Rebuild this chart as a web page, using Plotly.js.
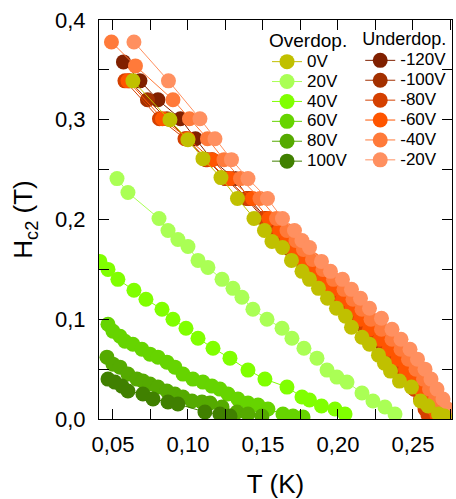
<!DOCTYPE html>
<html><head><meta charset="utf-8">
<script src="https://cdn.plot.ly/plotly-3.0.1.min.js"></script>
<style>html,body{margin:0;padding:0;background:#fff}</style>
</head><body><div id="chart" style="width:456px;height:499px"></div>
<script>
// ---- Overdoped series ----
const T_0V = [0.0633,0.088,0.100,0.110,0.122,0.133,0.144,0.151,0.156,0.163,0.169,0.176,0.181,0.187,0.193,0.199,0.205,0.209,0.216,0.221,0.227,0.231,0.235,0.241,0.249,0.255,0.260,0.267,0.271];
const H_0V = [0.339,0.300,0.280,0.261,0.242,0.221,0.201,0.189,0.178,0.172,0.159,0.148,0.140,0.131,0.121,0.111,0.103,0.092,0.082,0.075,0.064,0.056,0.048,0.038,0.032,0.018,0.013,0.005,0.003];

const T_20V = [0.0527,0.060,0.0807,0.0867,0.0933,0.100,0.1067,0.1133,0.1227,0.130,0.136,0.1433,0.1527,0.1627,0.1693,0.1773,0.186,0.1927,0.1993,0.206,0.216,0.2233,0.2313,0.238];
const H_20V = [0.241,0.227,0.201,0.189,0.180,0.173,0.159,0.152,0.140,0.131,0.122,0.110,0.100,0.091,0.081,0.071,0.061,0.049,0.042,0.037,0.026,0.018,0.012,0.005];

const T_40V = [0.0413,0.0467,0.0533,0.064,0.072,0.0827,0.090,0.0987,0.1067,0.1167,0.128,0.140,0.1513,0.166,0.176,0.181,0.189,0.198,0.2047];
const H_40V = [0.158,0.150,0.140,0.129,0.120,0.110,0.100,0.091,0.081,0.071,0.061,0.049,0.040,0.032,0.022,0.019,0.013,0.010,0.005];

const T_60V = [0.0467,0.050,0.0547,0.058,0.0633,0.0693,0.0747,0.080,0.086,0.0913,0.0967,0.1033,0.110,0.116,0.1213,0.1267,0.1333,0.140,0.1467,0.1533,0.1633,0.170,0.1767];
const H_60V = [0.095,0.088,0.083,0.078,0.075,0.070,0.065,0.062,0.057,0.052,0.045,0.040,0.037,0.033,0.030,0.025,0.020,0.016,0.014,0.010,0.005,0.003,0.002];

const T_80V = [0.046,0.050,0.0547,0.060,0.066,0.070,0.0747,0.080,0.086,0.0913,0.0967,0.1027,0.1093,0.1147,0.1227,0.1327,0.140,0.1493];
const H_80V = [0.062,0.055,0.052,0.045,0.040,0.038,0.035,0.032,0.028,0.025,0.022,0.018,0.017,0.016,0.012,0.007,0.005,0.003];

const T_100V = [0.0467,0.0513,0.056,0.060,0.070,0.0767,0.0867,0.0933,0.1113,0.1213,0.128];
const H_100V = [0.040,0.037,0.033,0.028,0.025,0.020,0.017,0.015,0.007,0.005,0.003];

// ---- Underdoped series ----
const T_m120V = [0.057,0.068,0.080,0.095,0.105,0.116,0.131,0.141,0.152,0.159,0.164,0.170,0.176,0.182,0.189,0.195,0.201,0.208,0.214,0.220,0.226,0.232,0.238,0.243,0.248,0.253,0.258,0.262,0.264];
const H_m120V = [0.358,0.339,0.320,0.301,0.281,0.260,0.241,0.221,0.201,0.189,0.179,0.170,0.160,0.150,0.140,0.130,0.120,0.110,0.100,0.090,0.080,0.070,0.060,0.050,0.040,0.030,0.020,0.010,0.004];

const T_m100V = [0.061,0.073,0.086,0.099,0.112,0.125,0.139,0.150,0.157,0.162,0.168,0.174,0.180,0.187,0.193,0.199,0.206,0.212,0.218,0.224,0.230,0.236,0.241,0.246,0.251,0.256,0.260,0.262];
const H_m100V = [0.339,0.320,0.301,0.281,0.260,0.241,0.221,0.201,0.189,0.179,0.170,0.160,0.150,0.140,0.130,0.120,0.110,0.100,0.090,0.080,0.070,0.060,0.050,0.040,0.030,0.020,0.010,0.004];

const T_m80V = [0.058,0.081,0.098,0.113,0.126,0.140,0.151,0.158,0.163,0.169,0.175,0.181,0.188,0.194,0.200,0.207,0.213,0.219,0.225,0.231,0.237,0.242,0.247,0.251,0.255,0.258,0.260];
const H_m80V = [0.339,0.301,0.281,0.260,0.241,0.221,0.201,0.189,0.179,0.170,0.160,0.150,0.140,0.130,0.120,0.110,0.100,0.090,0.080,0.070,0.060,0.050,0.040,0.030,0.020,0.010,0.004];

const T_m60V = [0.060,0.083,0.100,0.116,0.128,0.143,0.154,0.161,0.166,0.171,0.177,0.183,0.190,0.196,0.203,0.209,0.215,0.221,0.228,0.234,0.240,0.245,0.250,0.255,0.260,0.264,0.266];
const H_m60V = [0.339,0.301,0.281,0.260,0.241,0.221,0.201,0.189,0.179,0.170,0.160,0.150,0.140,0.130,0.120,0.110,0.100,0.090,0.080,0.070,0.060,0.050,0.040,0.030,0.020,0.010,0.004];

const T_m40V = [0.049,0.065,0.090,0.101,0.113,0.124,0.135,0.148,0.159,0.166,0.172,0.177,0.183,0.190,0.197,0.204,0.210,0.216,0.222,0.229,0.236,0.242,0.247,0.252,0.257,0.261,0.265,0.269,0.271];
const H_m40V = [0.378,0.354,0.320,0.301,0.281,0.260,0.241,0.221,0.201,0.189,0.179,0.170,0.160,0.150,0.140,0.130,0.120,0.110,0.100,0.090,0.080,0.070,0.060,0.050,0.040,0.030,0.020,0.010,0.004];

const T_m20V = [0.064,0.087,0.108,0.118,0.129,0.140,0.153,0.163,0.171,0.176,0.181,0.189,0.195,0.203,0.209,0.215,0.221,0.229,0.236,0.242,0.248,0.253,0.258,0.262,0.266,0.270,0.273,0.274];
const H_m20V = [0.378,0.339,0.301,0.281,0.260,0.241,0.221,0.201,0.189,0.179,0.172,0.158,0.148,0.140,0.130,0.121,0.111,0.101,0.090,0.080,0.070,0.060,0.050,0.040,0.030,0.020,0.010,0.004];

const overNames = ["0V","20V","40V","60V","80V","100V"];
const overColors = ["#C0C000","#AAFF55","#80FF00","#66D400","#55AA00","#408000"];
const overT = [T_0V,T_20V,T_40V,T_60V,T_80V,T_100V];
const overH = [H_0V,H_20V,H_40V,H_60V,H_80V,H_100V];

const underNames = ["-120V","-100V","-80V","-60V","-40V","-20V"];
const underColors = ["#802000","#A33000","#D44000","#FF5500","#FF7A3A","#FF9060"];
const underT = [T_m120V,T_m100V,T_m80V,T_m60V,T_m40V,T_m20V];
const underH = [H_m120V,H_m100V,H_m80V,H_m60V,H_m40V,H_m20V];

const traces = [];
underNames.forEach((n,i)=>traces.push({
  x: underT[i], y: underH[i], name: '<span style="font-size:17px">'+n+'</span>',
  type:'scatter', mode:'lines+markers', legend:'legend2',
  line:{color:underColors[i], width:1},
  marker:{color:underColors[i], size:15, line:{width:0}}
}));
overNames.forEach((n,i)=>traces.push({
  x: overT[i], y: overH[i], name: '<span style="font-size:17px">'+n+'</span>',
  type:'scatter', mode:'lines+markers', legend:'legend',
  line:{color:overColors[i], width:1},
  marker:{color:overColors[i], size:15, line:{width:0}}
}));

const font = "'Liberation Sans', Arial, sans-serif";
const layout = {
  width:456, height:499,
  margin:{l:99, r:4, t:20, b:80, pad:0},
  paper_bgcolor:'#fff', plot_bgcolor:'#fff',
  separators:',.',
  font:{family:font, color:'#000', size:22},
  showlegend:true,
  xaxis:{
    range:[0.0407,0.276], dtick:0.05, tick0:0, tickformat:'.2f',
    ticks:'inside', ticklen:10, tickwidth:1, tickcolor:'#000',
    minor:{dtick:0.025, ticks:'inside', ticklen:10, tickwidth:1, tickcolor:'#000'},
    showline:true, linecolor:'#000', linewidth:1, mirror:'ticks',
    showgrid:false, zeroline:false,
    tickfont:{size:22, family:font},
    ticklabelstandoff:6,
    title:{text:'T (K)', font:{size:26, family:font}, standoff:18}
  },
  yaxis:{
    range:[0,0.4], dtick:0.1, tick0:0, tickformat:'.1f',
    ticks:'inside', ticklen:10, tickwidth:1, tickcolor:'#000',
    minor:{dtick:0.05, ticks:'inside', ticklen:10, tickwidth:1, tickcolor:'#000'},
    showline:true, linecolor:'#000', linewidth:1, mirror:'ticks',
    showgrid:false, zeroline:false,
    tickfont:{size:22, family:font},
    ticklabelstandoff:8,
    title:{text:'H<sub>c2</sub> (T)', font:{size:26, family:font}, standoff:14}
  },
  legend:{
    x:0.476, y:0.995, xanchor:'left', yanchor:'top',
    bgcolor:'rgba(0,0,0,0)', borderwidth:0,
    font:{size:13, family:font},
    title:{text:'Overdop.', font:{size:19, family:font}},
    tracegroupgap:0
  },
  legend2:{
    x:0.740, y:0.995, xanchor:'left', yanchor:'top',
    bgcolor:'rgba(0,0,0,0)', borderwidth:0,
    font:{size:13, family:font},
    title:{text:'Underdop.', font:{size:18, family:font}},
    tracegroupgap:0
  }
};

Plotly.newPlot('chart', traces, layout, {displayModeBar:false, staticPlot:true});
</script></body></html>
